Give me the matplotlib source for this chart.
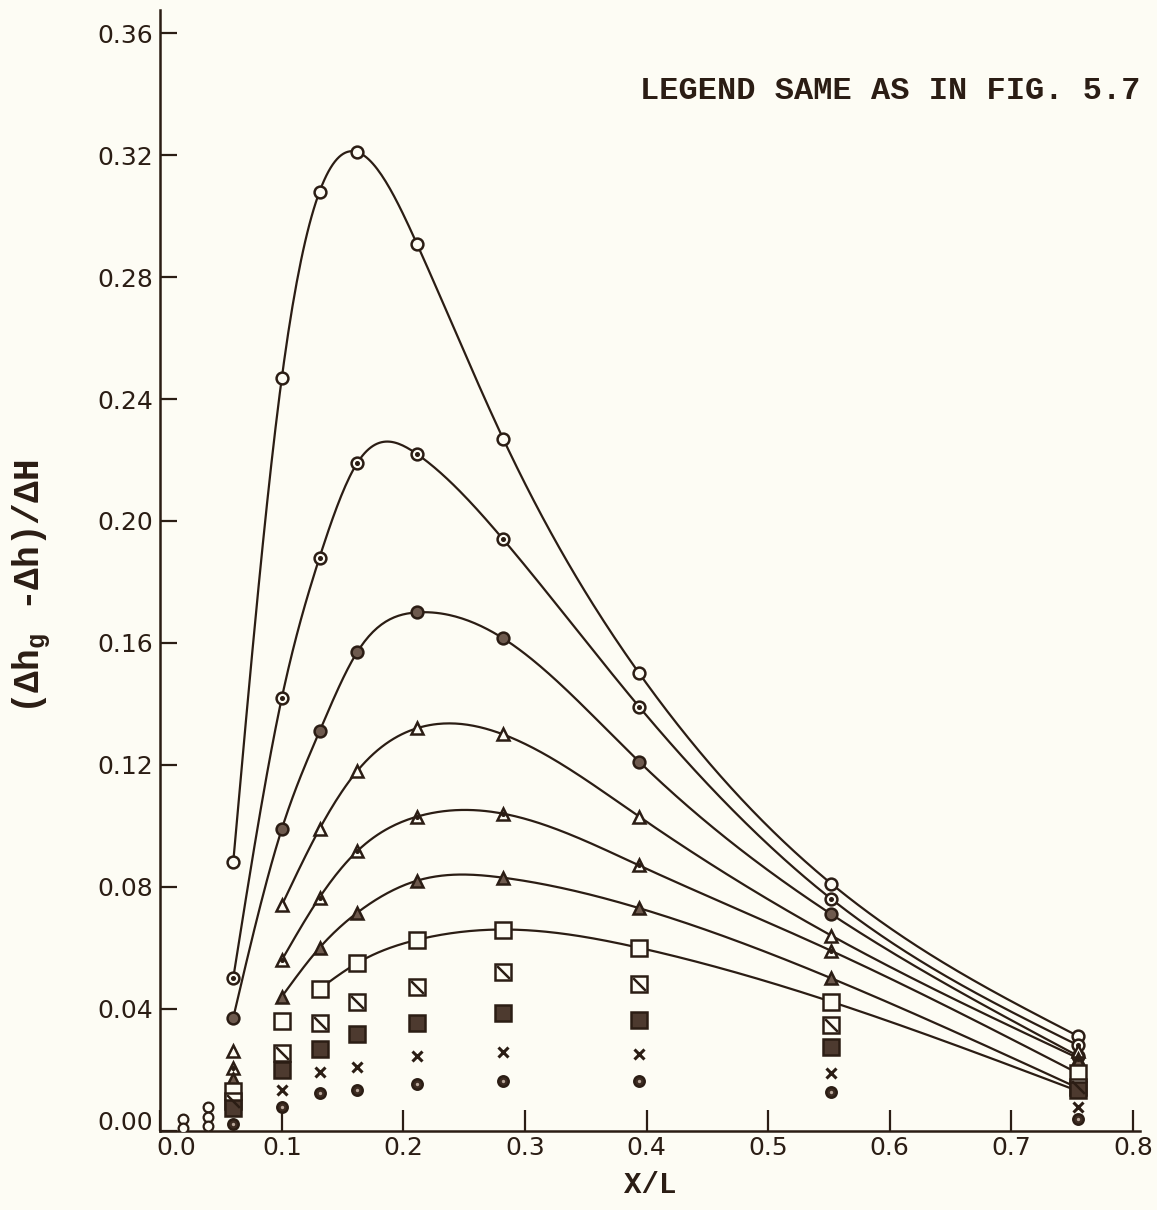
# (dh_g - dh)/dH against X/L, re-drawn from the scanned figure
import numpy as np
import matplotlib
matplotlib.use('Agg')
import matplotlib.pyplot as plt
import matplotlib.transforms as mtrans
from matplotlib.path import Path

INK = '#2b1d14'
PAPER = '#fdfcf4'
GREY = '#6e5a4e'

# measuring stations along the plate (X/L)
cols = [0.06, 0.10, 0.131, 0.162, 0.211, 0.282, 0.394, 0.552, 0.755]

s1 = [0.088, 0.247, 0.308, 0.321, 0.291, 0.227, 0.150, 0.081, 0.031]
s2 = [0.050, 0.142, 0.188, 0.219, 0.222, 0.194, 0.139, 0.076, 0.028]
s3 = [0.037, 0.099, 0.131, 0.157, 0.170, 0.1615, 0.121, 0.071, 0.0245]
s4 = [0.026, 0.074, 0.099, 0.118, 0.132, 0.130, 0.103, 0.064, 0.026]
s5 = [0.0205, 0.056, 0.0765, 0.0917, 0.103, 0.104, 0.087, 0.059, 0.0235]
s6 = [0.017, 0.044, 0.060, 0.0715, 0.082, 0.083, 0.073, 0.050, 0.023]
s7 = [0.013, 0.036, 0.0465, 0.055, 0.0626, 0.066, 0.060, 0.0423, 0.0189]
s8 = [0.0097, 0.0255, 0.0354, 0.0423, 0.047, 0.052, 0.048, 0.0346, 0.0145]
s9 = [0.0073, 0.0198, 0.0267, 0.0317, 0.0354, 0.0385, 0.0363, 0.0275, 0.0132]
s10 = [None, 0.0133, 0.0192, 0.0208, 0.0244, 0.0258, 0.0251, 0.0188, 0.0077]
s11 = [0.0023, 0.0079, 0.0125, 0.0135, 0.0152, 0.0163, 0.0163, 0.0126, 0.004]

# first station joined by the faired curve (None = points only)
curve_from = [0, 0, 0, 1, 1, 1, 2, None, None, None, None]
# where each faired curve meets the last station (lines cross the marker pile there)
line_end = [0.031, 0.028, 0.0245, 0.0238, 0.0188, 0.014, 0.013]

# stray points close to the leading edge
x0_pts = [0.019, 0.019, 0.039, 0.039, 0.039]
y0_pts = [0.0038, 0.0008, 0.0078, 0.0046, 0.0015]

series = [s1, s2, s3, s4, s5, s6, s7, s8, s9, s10, s11]
# marker, face, size, inner mark
styles = [('o', PAPER, 8.5, None), ('o', PAPER, 8.5, 'dot'), ('o', GREY, 8.5, None),
          ('^', PAPER, 8.8, None), ('^', PAPER, 8.8, 'dot'), ('^', GREY, 8.8, None),
          ('s', PAPER, 11.5, None), ('s', PAPER, 11.5, 'diag'), ('s', '#4d3a2f', 11.5, None),
          ('x', INK, 7, None), ('o', '#3d2c22', 7.5, 'light')]

DIAG = Path([(-1, 1), (1, -1)], [Path.MOVETO, Path.LINETO])


def spline(xs, ys, n=400):
    # natural cubic spline through the points
    xs, ys = np.asarray(xs, float), np.asarray(ys, float)
    k = len(xs)
    h = np.diff(xs)
    A = np.zeros((k, k))
    r = np.zeros(k)
    A[0, 0] = A[-1, -1] = 1
    for i in range(1, k - 1):
        A[i, i - 1] = h[i - 1]
        A[i, i] = 2 * (h[i - 1] + h[i])
        A[i, i + 1] = h[i]
        r[i] = 3 * ((ys[i + 1] - ys[i]) / h[i] - (ys[i] - ys[i - 1]) / h[i - 1])
    c = np.linalg.solve(A, r)
    xx = np.linspace(xs[0], xs[-1], n)
    j = np.clip(np.searchsorted(xs, xx) - 1, 0, k - 2)
    t = xx - xs[j]
    b = (ys[j + 1] - ys[j]) / h[j] - h[j] * (2 * c[j] + c[j + 1]) / 3
    d = (c[j + 1] - c[j]) / (3 * h[j])
    return xx, ys[j] + b * t + c[j] * t ** 2 + d * t ** 3


fig = plt.figure(figsize=(11.57, 12.10), dpi=100, facecolor=PAPER)
ax = fig.add_axes([0.1385, 0.0655, 0.847, 0.926])
ax.set_facecolor(PAPER)

k = 0
for vals, start in zip(series, curve_from):
    if start is None:
        continue
    xs = cols[start:]
    ys = vals[start:-1] + [line_end[k]]
    k += 1
    xx, yy = spline(xs, ys)
    ax.plot(xx, yy, color=INK, lw=1.6, zorder=2)

for vals, (mk, face, ms, inner) in zip(series, styles):
    xs = [x for x, v in zip(cols, vals) if v is not None]
    ys = [v for v in vals if v is not None]
    if mk == 'x':
        ax.plot(xs, ys, ls='none', marker='x', ms=ms, mew=2.2, color=INK, zorder=4)
        continue
    ax.plot(xs, ys, ls='none', marker=mk, ms=ms, mfc=face, mec=INK, mew=1.8, zorder=4)
    if inner == 'dot':
        ax.plot(xs, ys, ls='none', marker='o', ms=2.6, mfc=INK, mec=INK, zorder=5)
    elif inner == 'light':
        ax.plot(xs, ys, ls='none', marker='o', ms=2.4, mfc='#b9a79a', mec='none', zorder=5)
    elif inner == 'diag':
        ax.plot(xs, ys, ls='none', marker=DIAG, ms=ms * 0.8, mec=INK, mew=1.8, zorder=5)

ax.plot(x0_pts, y0_pts, ls='none', marker='o', ms=7, mfc=PAPER, mec=INK, mew=1.6, zorder=4)

ax.set_xlim(0, 0.806)
ax.set_ylim(0, 0.3675)
ax.set_xticks(np.arange(0, 0.81, 0.1))
ax.set_xticklabels([f'{v:.1f}' for v in np.arange(0, 0.81, 0.1)])
ax.set_yticks(np.arange(0, 0.37, 0.04))
ax.set_yticklabels([f'{v:.2f}' for v in np.arange(0, 0.37, 0.04)])
ax.tick_params(axis='x', direction='in', length=15, width=1.6, colors=INK,
               labelsize=18, pad=4)
ax.tick_params(axis='y', direction='in', length=12, width=1.6, colors=INK,
               labelsize=18, pad=5)
for sp in ('top', 'right'):
    ax.spines[sp].set_visible(False)
for sp in ('left', 'bottom'):
    ax.spines[sp].set_color(INK)
    ax.spines[sp].set_linewidth(1.8)

# the scan has '0.0' set a little right of the origin and '0.00' lifted above it
lab0 = ax.get_xticklabels()[0]
lab0.set_transform(lab0.get_transform() + mtrans.ScaledTranslation(0.16, 0, fig.dpi_scale_trans))
lab00 = ax.get_yticklabels()[0]
lab00.set_transform(lab00.get_transform() + mtrans.ScaledTranslation(0, 0.1, fig.dpi_scale_trans))

plt.rcParams['mathtext.default'] = 'regular'
mono = 'Liberation Mono'
ax.set_xlabel('X/L', fontsize=21, fontweight='bold', family=mono, color=INK, labelpad=8)
fig.text(0.027, 0.515, r'($\Delta$h$_g$ -$\Delta$h)/$\Delta$H', rotation=90, ha='center',
         va='center', fontsize=26, fontweight='bold', family=mono, color=INK)
fig.text(0.553, 0.925, 'LEGEND SAME AS IN FIG. 5.7', fontsize=23, fontweight='bold',
         family=mono, color=INK, ha='left', va='center')

fig.savefig('out.png', dpi=100, facecolor=PAPER)
